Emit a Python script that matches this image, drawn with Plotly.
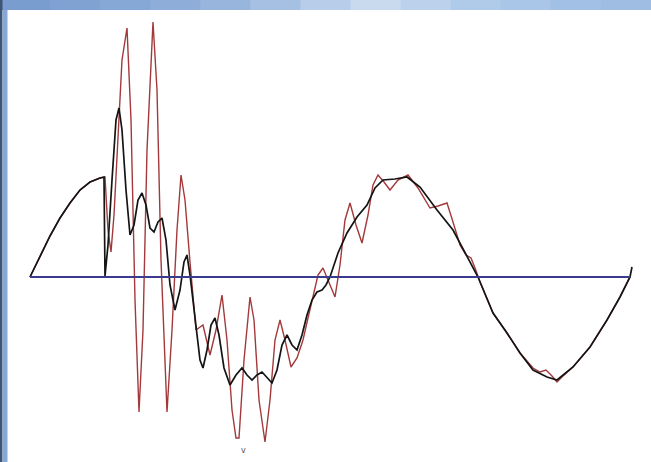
import plotly.graph_objects as go

# Time samples (0..600) and amplitudes
black_t = [0, 10, 20, 30, 40, 50, 60, 70, 74, 75, 78, 82, 86, 89, 92, 96, 100, 104, 108, 112,
           116, 120, 124, 128, 132, 136, 140, 145, 150, 154, 157, 160, 165, 170, 173, 177,
           181, 185, 189, 194, 200, 206, 212, 217, 222, 227, 232, 237, 242, 247, 252, 257,
           262, 267, 272, 277, 282, 287, 292, 296, 300, 308, 317, 327, 337, 345, 353, 365,
           377, 390, 407, 423, 437, 448, 463, 477, 490, 503, 517, 527, 543, 560, 577, 590,
           600, 602]
black_v = [0.00, 0.21, 0.41, 0.59, 0.74, 0.87, 0.95, 0.99, 1.00, 0.01, 0.32, 0.97, 1.57, 1.69,
           1.47, 0.87, 0.42, 0.52, 0.77, 0.84, 0.72, 0.49, 0.45, 0.55, 0.59, 0.37, -0.08,
           -0.33, -0.13, 0.15, 0.22, 0.02, -0.43, -0.83, -0.91, -0.73, -0.48, -0.41, -0.58,
           -0.91, -1.08, -0.98, -0.91, -0.98, -1.03, -0.98, -0.95, -1.01, -1.06, -0.93,
           -0.68, -0.58, -0.68, -0.73, -0.58, -0.38, -0.23, -0.15, -0.13, -0.08, 0.00, 0.24,
           0.44, 0.60, 0.72, 0.89, 0.97, 0.98, 1.00, 0.90, 0.67, 0.47, 0.20, 0.00, -0.36,
           -0.56, -0.76, -0.93, -1.00, -1.03, -0.90, -0.70, -0.43, -0.20, 0.00, 0.10]

red_t = [0, 10, 20, 30, 40, 50, 60, 70, 75, 78, 81, 84, 88, 92, 97, 101, 105, 109, 113, 117,
         123, 127, 131, 137, 142, 147, 151, 155, 160, 166, 173, 180, 186, 192, 197, 202, 206,
         209, 214, 220, 224, 229, 235, 240, 245, 250, 255, 261, 267, 273, 278, 283, 288, 293,
         298, 305, 310, 315, 320, 326, 332, 338, 343, 348, 354, 360, 368, 378, 388, 395, 400,
         408, 417, 423, 430, 436, 441, 445, 450, 463, 477, 490, 503, 510, 516, 522, 527, 533,
         543, 560, 577, 590, 600]
red_v = [0.00, 0.21, 0.41, 0.59, 0.74, 0.87, 0.95, 0.99, 1.00, 0.47, 0.25, 0.62, 1.47, 2.17,
         2.49, 1.57, -0.23, -1.35, -0.53, 1.27, 2.55, 1.87, 0.17, -1.35, -0.53, 0.47, 1.02,
         0.77, 0.15, -0.53, -0.48, -0.78, -0.53, -0.18, -0.63, -1.33, -1.61, -1.61, -0.83,
         -0.20, -0.43, -1.23, -1.65, -1.23, -0.63, -0.43, -0.63, -0.90, -0.81, -0.63, -0.41,
         -0.18, 0.02, 0.09, -0.03, -0.20, 0.12, 0.57, 0.74, 0.52, 0.34, 0.62, 0.92, 1.02,
         0.95, 0.87, 0.97, 1.02, 0.89, 0.77, 0.69, 0.71, 0.74, 0.55, 0.32, 0.22, 0.19, 0.09,
         -0.05, -0.36, -0.56, -0.76, -0.91, -0.95, -0.93, -0.99, -1.05, -0.99, -0.90, -0.70,
         -0.43, -0.20, 0.00]

axis_t = [0, 600]
axis_v = [0, 0]

W, H = 651, 462

fig = go.Figure()
fig.add_trace(go.Scatter(x=red_t, y=red_v, mode="lines",
                         line=dict(color="#a3393b", width=1.4), hoverinfo="skip"))
fig.add_trace(go.Scatter(x=black_t, y=black_v, mode="lines",
                         line=dict(color="#141414", width=1.7), hoverinfo="skip"))
fig.add_trace(go.Scatter(x=axis_t, y=axis_v, mode="lines",
                         line=dict(color="#3b3b8e", width=2.2), hoverinfo="skip"))


def px(x):
    return x / W


def py(y):
    return 1 - y / H


shapes = []
# left frame: dark edge + light blue strip
shapes.append(dict(type="rect", xref="paper", yref="paper", x0=px(0), x1=px(2.5),
                   y0=0, y1=1, fillcolor="#3e5573", line=dict(width=0), layer="above"))
shapes.append(dict(type="rect", xref="paper", yref="paper", x0=px(2.5), x1=px(7.5),
                   y0=0, y1=py(10), fillcolor="#86a8d6", line=dict(width=0), layer="above"))
# top strip gradient
top_cols = ["#7a9dd0", "#7fa2d3", "#86a8d6", "#8eaed9", "#98b6dd", "#a6c0e3", "#b8cde9",
            "#c9daef", "#bcd2ec", "#b0caea", "#a9c5e7", "#a2c0e5", "#9fbde3"]
n = len(top_cols)
for i, c in enumerate(top_cols):
    shapes.append(dict(type="rect", xref="paper", yref="paper", x0=i / n, x1=(i + 1) / n + 0.002,
                       y0=py(10), y1=1, fillcolor=c, line=dict(width=0), layer="above"))
shapes.append(dict(type="rect", xref="paper", yref="paper", x0=px(0), x1=px(2.5),
                   y0=py(10), y1=1, fillcolor="#3e5573", line=dict(width=0), layer="above"))

fig.update_layout(
    width=W, height=H,
    margin=dict(l=0, r=0, t=0, b=0),
    paper_bgcolor="white", plot_bgcolor="white",
    showlegend=False,
    xaxis=dict(range=[-30, 621], visible=False, fixedrange=True),
    yaxis=dict(range=[-1.85, 2.77], visible=False, fixedrange=True),
    shapes=shapes,
    annotations=[dict(x=213, y=-1.73, xref="x", yref="y", text="v", showarrow=False,
                      font=dict(size=8, color="#555555", family="DejaVu Sans"))],
)

fig.write_html("out.html",
               config={"displayModeBar": False, "staticPlot": True},
               post_script="document.body.style.margin='0px';document.body.style.overflow='hidden';")
